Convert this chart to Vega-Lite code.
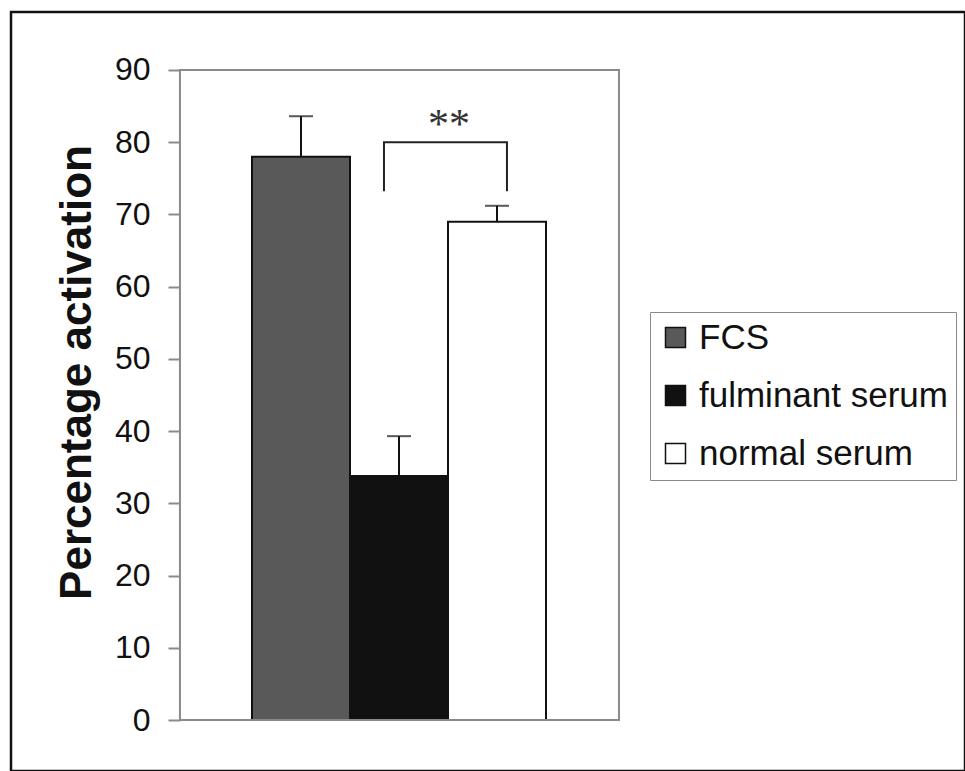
{
  "$schema": "https://vega.github.io/schema/vega-lite/v6.json",
  "width": 954,
  "height": 759,
  "autosize": {"type": "none"},
  "padding": {"left": 11, "top": 12, "right": 0, "bottom": 0},
  "background": "white",
  "config": {
    "view": {"stroke": "#111111", "strokeWidth": 2.5},
    "font": "Liberation Sans"
  },
  "datasets": {
    "bars": [
      {"group": "FCS", "value": 78, "upper": 83.6},
      {"group": "fulminant serum", "value": 33.8, "upper": 39.3},
      {"group": "normal serum", "value": 69, "upper": 71.2}
    ],
    "bracket": [
      {"pt": 1, "bx": 1.847, "by": 73.2},
      {"pt": 2, "bx": 1.847, "by": 80},
      {"pt": 3, "bx": 3.102, "by": 80},
      {"pt": 4, "bx": 3.102, "by": 73.2}
    ],
    "sig": [{"sx": 2.51, "sy": 80.6, "label": "**"}]
  },
  "layer": [
    {
      "data": {"name": "bars"},
      "encoding": {
        "x": {
          "field": "group",
          "type": "nominal",
          "scale": {"domain": ["FCS", "fulminant serum", "normal serum"], "range": [241, 535], "paddingInner": 0, "paddingOuter": 0},
          "axis": null
        }
      },
      "layer": [
        {
          "mark": {"type": "bar", "stroke": "#111111", "strokeWidth": 2},
          "encoding": {
            "y": {
              "field": "value",
              "type": "quantitative",
              "scale": {"domain": [-7.06, 98.03], "nice": false, "zero": false},
              "axis": {
                "values": [0, 10, 20, 30, 40, 50, 60, 70, 80, 90],
                "offset": -169,
                "domain": false,
                "grid": false,
                "tickSize": 12,
                "tickColor": "#8a8a8a",
                "tickWidth": 2,
                "labelFont": "Liberation Sans",
                "labelFontSize": 32,
                "labelColor": "#111111",
                "labelPadding": 18,
                "title": "Percentage activation",
                "titleFont": "Liberation Sans",
                "titleFontSize": 44,
                "titleFontWeight": "bold",
                "titleColor": "#111111",
                "titleAngle": -90,
                "titleAlign": "center",
                "titleBaseline": "alphabetic",
                "titleX": -90,
                "titleY": 360
              }
            },
            "y2": {"datum": 0},
            "fill": {
              "field": "group",
              "type": "nominal",
              "scale": {"domain": ["FCS", "fulminant serum", "normal serum"], "range": ["#595959", "#111111", "#ffffff"]},
              "legend": {
                "orient": "none",
                "legendX": 639,
                "legendY": 300,
                "title": null,
                "strokeColor": "#8a8a8a",
                "fillColor": "white",
                "padding": 8,
                "symbolType": "square",
                "symbolSize": 400,
                "symbolStrokeColor": "#111111",
                "symbolStrokeWidth": 1.5,
                "labelFont": "Liberation Sans",
                "labelFontSize": 35,
                "labelColor": "#111111",
                "labelOffset": 6,
                "labelLimit": 400,
                "rowPadding": 22
              }
            }
          }
        },
        {
          "mark": {"type": "rule", "color": "#111111", "strokeWidth": 2},
          "encoding": {
            "y": {"field": "value", "type": "quantitative", "scale": {"domain": [-7.06, 98.03], "nice": false, "zero": false}},
            "y2": {"field": "upper"}
          }
        },
        {
          "mark": {"type": "tick", "color": "#111111", "thickness": 2, "size": 24},
          "encoding": {
            "y": {"field": "upper", "type": "quantitative", "scale": {"domain": [-7.06, 98.03], "nice": false, "zero": false}}
          }
        }
      ]
    },
    {
      "layer": [
        {
          "data": {"values": [{}]},
          "mark": {"type": "rect", "filled": false, "color": "#8a8a8a", "strokeWidth": 2},
          "encoding": {
            "x": {"datum": -0.235, "type": "quantitative", "scale": {"domain": [-1.959, 7.776], "nice": false, "zero": false}, "axis": null},
            "x2": {"datum": 4.245},
            "y": {"datum": 0, "type": "quantitative", "scale": {"domain": [-7.06, 98.03], "nice": false, "zero": false}},
            "y2": {"datum": 90}
          }
        },
        {
          "data": {"name": "bracket"},
          "mark": {"type": "line", "color": "#222222", "strokeWidth": 2},
          "encoding": {
            "x": {"field": "bx", "type": "quantitative", "scale": {"domain": [-1.959, 7.776], "nice": false, "zero": false}, "axis": null},
            "y": {"field": "by", "type": "quantitative", "scale": {"domain": [-7.06, 98.03], "nice": false, "zero": false}},
            "order": {"field": "pt", "type": "quantitative"}
          }
        },
        {
          "data": {"name": "sig"},
          "mark": {"type": "text", "font": "Liberation Serif", "fontSize": 42, "color": "#333333", "align": "center", "baseline": "alphabetic"},
          "encoding": {
            "x": {"field": "sx", "type": "quantitative", "scale": {"domain": [-1.959, 7.776], "nice": false, "zero": false}, "axis": null},
            "y": {"field": "sy", "type": "quantitative", "scale": {"domain": [-7.06, 98.03], "nice": false, "zero": false}},
            "text": {"field": "label"}
          }
        }
      ]
    }
  ],
  "resolve": {"scale": {"x": "independent"}}
}
